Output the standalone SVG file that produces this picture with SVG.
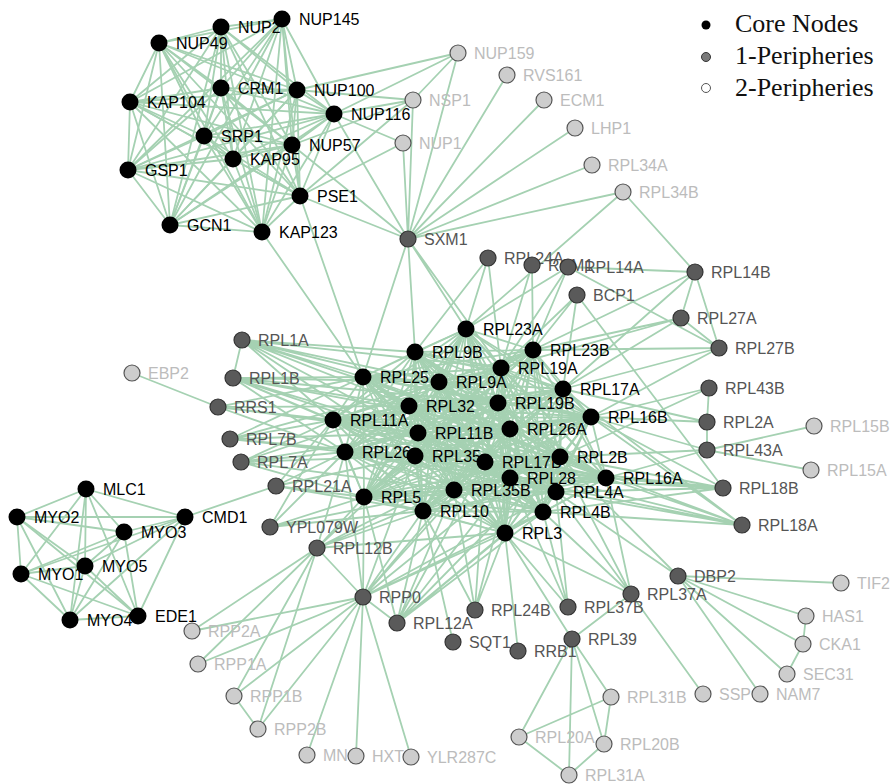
<svg xmlns="http://www.w3.org/2000/svg" width="894" height="784" viewBox="0 0 894 784">
<style>
text{font-family:"Liberation Sans",Arial,sans-serif;font-size:16px}
.c circle{fill:#000}
.c text{fill:#000}
.p1 circle{fill:#5a5a5a;stroke:#333;stroke-width:1.2}
.p1 text{fill:#555}
.p2 circle{fill:#cdcdcd;stroke:#555;stroke-width:1.2}
.p2 text{fill:#bcbcbc}
.leg text{font-family:"Liberation Serif","Times New Roman",serif;font-size:26px;fill:#111}
</style>
<rect width="894" height="784" fill="#fff"/>
<g id="edges" fill="none" stroke="#a5d1b2" stroke-width="1.8" stroke-linejoin="round" stroke-linecap="round">
<path d="M282 19L221 27L262 232L159 43L170 225L221 88L300 196L297 90L128 170L130 102L233 159L334 114L292 145L204 136"/>
<path d="M221 27L159 43L282 19L221 88L262 232L297 90L170 225L130 102L300 196L334 114L128 170L204 136L233 159L292 145"/>
<path d="M159 43L221 88L221 27L297 90L282 19L130 102L262 232L334 114L170 225L204 136L300 196L292 145L128 170L233 159"/>
<path d="M221 88L297 90L159 43L130 102L221 27L334 114L282 19L204 136L262 232L292 145L170 225L233 159L300 196L128 170"/>
<path d="M297 90L130 102L221 88L334 114L159 43L204 136L221 27L292 145L282 19L233 159L262 232L128 170L170 225L300 196"/>
<path d="M130 102L334 114L297 90L204 136L221 88L292 145L159 43L233 159L221 27L128 170L282 19L300 196L262 232L170 225"/>
<path d="M334 114L204 136L130 102L292 145L297 90L233 159L221 88L128 170L159 43L300 196L221 27L170 225L282 19L262 232"/>
<path d="M86 489L185 517L124 532L138 616L85 566L70 620L17 517L21 574"/>
<path d="M185 517L138 616L86 489L70 620L124 532L21 574L85 566L17 517"/>
<path d="M138 616L70 620L185 517L21 574L86 489L17 517L124 532L85 566"/>
<path d="M70 620L21 574L138 616L17 517L185 517L85 566L86 489L124 532"/>
<path d="M505 533L466 329L415 352L543 512L533 350L423 511L501 368L364 497L363 377L454 490L439 382L556 492L563 389L606 478L409 406L510 478L498 403L560 457L591 417L485 462L333 420L415 456L418 433L345 452L510 429Z"/>
<path d="M505 533L415 352L533 350L466 329L501 368L543 512L363 377L423 511L439 382L364 497L563 389L454 490L409 406L556 492L498 403L606 478L591 417L510 478L333 420L560 457L418 433L485 462L510 429L415 456L345 452Z"/>
<path d="M505 533L533 350L501 368L415 352L363 377L466 329L439 382L543 512L563 389L423 511L409 406L364 497L498 403L454 490L591 417L556 492L333 420L606 478L418 433L510 478L510 429L560 457L345 452L485 462L415 456Z"/>
<path d="M505 533L501 368L363 377L533 350L439 382L415 352L563 389L466 329L409 406L543 512L498 403L423 511L591 417L364 497L333 420L454 490L418 433L556 492L510 429L606 478L345 452L510 478L415 456L560 457L485 462Z"/>
<path d="M505 533L363 377L439 382L501 368L563 389L533 350L409 406L415 352L498 403L466 329L591 417L543 512L333 420L423 511L418 433L364 497L510 429L454 490L345 452L556 492L415 456L606 478L485 462L510 478L560 457Z"/>
<path d="M505 533L439 382L563 389L363 377L409 406L501 368L498 403L533 350L591 417L415 352L333 420L466 329L418 433L543 512L510 429L423 511L345 452L364 497L415 456L454 490L485 462L556 492L560 457L606 478L510 478Z"/>
<path d="M505 533L563 389L409 406L439 382L498 403L363 377L591 417L501 368L333 420L533 350L418 433L415 352L510 429L466 329L345 452L543 512L415 456L423 511L485 462L364 497L560 457L454 490L510 478L556 492L606 478Z"/>
<path d="M505 533L409 406L498 403L563 389L591 417L439 382L333 420L363 377L418 433L501 368L510 429L533 350L345 452L415 352L415 456L466 329L485 462L543 512L560 457L423 511L510 478L364 497L606 478L454 490L556 492Z"/>
<path d="M505 533L498 403L591 417L409 406L333 420L563 389L418 433L439 382L510 429L363 377L345 452L501 368L415 456L533 350L485 462L415 352L560 457L466 329L510 478L543 512L606 478L423 511L556 492L364 497L454 490Z"/>
<path d="M505 533L591 417L333 420L498 403L418 433L409 406L510 429L563 389L345 452L439 382L415 456L363 377L485 462L501 368L560 457L533 350L510 478L415 352L606 478L466 329L556 492L543 512L454 490L423 511L364 497Z"/>
<path d="M505 533L333 420L418 433L591 417L510 429L498 403L345 452L409 406L415 456L563 389L485 462L439 382L560 457L363 377L510 478L501 368L606 478L533 350L556 492L415 352L454 490L466 329L364 497L543 512L423 511Z"/>
<path d="M505 533L418 433L510 429L333 420L345 452L591 417L415 456L498 403L485 462L409 406L560 457L563 389L510 478L439 382L606 478L363 377L556 492L501 368L454 490L533 350L364 497L415 352L423 511L466 329L543 512Z"/>
<path d="M458 53L297 90M458 53L334 114M458 53L413 100M413 100L334 114M413 100L297 90M413 100L292 145M413 100L300 196M403 143L300 196M403 143L334 114M300 196L408 239M262 232L363 377M300 196L363 377M623 192L466 329"/>
<path d="M408 239L458 53M408 239L507 75M408 239L544 100M408 239L575 128M408 239L592 165M408 239L623 192M408 239L413 100M408 239L403 143M408 239L292 145M408 239L334 114M408 239L363 377M408 239L415 352M408 239L466 329M408 239L501 368"/>
<path d="M242 340L363 377M242 340L415 352M242 340L439 382M242 340L409 406M242 340L333 420M242 340L418 433M242 340L501 368M242 340L510 429M242 340L498 403M242 340L415 456M242 340L233 378"/>
<path d="M233 378L363 377M233 378L439 382M233 378L409 406M233 378L333 420M233 378L418 433M233 378L345 452M233 378L415 456M233 378L498 403M233 378L485 462M233 378L510 429"/>
<path d="M218 407L132 373M218 407L363 377M218 407L333 420M218 407L409 406M218 407L418 433M218 407L345 452"/>
<path d="M230 439L363 377M230 439L333 420M230 439L409 406M230 439L345 452M230 439L415 456M230 439L418 433M230 439L439 382M230 439L485 462"/>
<path d="M241 462L333 420M241 462L345 452M241 462L364 497M241 462L415 456M241 462L418 433M241 462L409 406M241 462L454 490"/>
<path d="M276 486L185 517M276 486L345 452M276 486L364 497M276 486L333 420M276 486L415 456M276 486L423 511"/>
<path d="M270 527L364 497M270 527L345 452M270 527L423 511M270 527L454 490M270 527L333 420"/>
<path d="M317 548L364 497M317 548L423 511M317 548L345 452M317 548L454 490M317 548L505 533M317 548L415 456M317 548L485 462M317 548L363 597M317 548L192 631M317 548L198 664M317 548L234 696M317 548L258 729"/>
<path d="M363 597L364 497M363 597L423 511M363 597L454 490M363 597L505 533M363 597L510 478M363 597L543 512M363 597L485 462M363 597L345 452M363 597L415 456M363 597L556 492M363 597L397 623M363 597L192 631M363 597L198 664M363 597L234 696M363 597L258 729M363 597L307 755M363 597L356 756M363 597L411 757M234 696L258 729"/>
<path d="M397 623L423 511M397 623L454 490M397 623L505 533M397 623L510 478M397 623L485 462M397 623L543 512M397 623L556 492M397 623L560 457M397 623L364 497"/>
<path d="M475 610L505 533M475 610L454 490M475 610L423 511M475 610L510 478M475 610L485 462M453 642L423 511M518 651L505 533"/>
<path d="M568 607L543 512M568 607L505 533M568 607L556 492M568 607L510 478"/>
<path d="M572 639L505 533M572 639L519 737M572 639L569 775M572 639L604 744M572 639L611 697M572 639L631 594M519 737L611 697M519 737L569 775L604 744L611 697"/>
<path d="M631 594L543 512M631 594L556 492M631 594L606 478M631 594L560 457M631 594L505 533M631 594L703 694"/>
<path d="M678 576L560 457M678 576L556 492M678 576L841 583M678 576L806 616M678 576L803 644M678 576L787 674M678 576L760 694M806 616L803 644L787 674"/>
<path d="M742 525L556 492M742 525L606 478M742 525L543 512M742 525L560 457M742 525L510 478M742 525L485 462M742 525L591 417M742 525L563 389"/>
<path d="M723 488L606 478M723 488L556 492M723 488L560 457M723 488L510 478M723 488L485 462M723 488L591 417M723 488L543 512M723 488L577 295"/>
<path d="M707 450L606 478M707 450L560 457M707 450L591 417M707 450L811 470M707 450L814 426M707 450L707 422M707 422L591 417M707 422L563 389M707 422L709 388M709 388L591 417M709 388L560 457"/>
<path d="M719 348L563 389M719 348L533 350M719 348L591 417M719 348L681 318M719 348L695 272M719 348L568 267M681 318L533 350M681 318L563 389M681 318L695 272M681 318L501 368"/>
<path d="M695 272L568 267M695 272L623 192M695 272L533 350M695 272L563 389M568 267L533 350M568 267L501 368M568 267L466 329M532 265L533 350M532 265L501 368M488 258L466 329M488 258L501 368M488 258L415 352M577 295L533 350M577 295L501 368M577 295L563 389"/>
</g>
<g id="nodes">
<g id="MYO2" class="c" transform="translate(17 517)"><text x="17" y="6">MYO2</text><circle r="8.5"/></g>
<g id="MYO1" class="c" transform="translate(21 574)"><text x="17" y="6">MYO1</text><circle r="8.5"/></g>
<g id="MYO4" class="c" transform="translate(70 620)"><text x="17" y="6">MYO4</text><circle r="8.5"/></g>
<g id="MYO5" class="c" transform="translate(85 566)"><text x="17" y="6">MYO5</text><circle r="8.5"/></g>
<g id="MLC1" class="c" transform="translate(86 489)"><text x="17" y="6">MLC1</text><circle r="8.5"/></g>
<g id="MYO3" class="c" transform="translate(124 532)"><text x="17" y="6">MYO3</text><circle r="8.5"/></g>
<g id="GSP1" class="c" transform="translate(128 170)"><text x="17" y="6">GSP1</text><circle r="8.5"/></g>
<g id="KAP104" class="c" transform="translate(130 102)"><text x="17" y="6">KAP104</text><circle r="8.5"/></g>
<g id="EBP2" class="p2" transform="translate(132 373)"><text x="16" y="6">EBP2</text><circle r="8"/></g>
<g id="EDE1" class="c" transform="translate(138 616)"><text x="17" y="6">EDE1</text><circle r="8.5"/></g>
<g id="NUP49" class="c" transform="translate(159 43)"><text x="17" y="6">NUP49</text><circle r="8.5"/></g>
<g id="GCN1" class="c" transform="translate(170 225)"><text x="17" y="6">GCN1</text><circle r="8.5"/></g>
<g id="CMD1" class="c" transform="translate(185 517)"><text x="17" y="6">CMD1</text><circle r="8.5"/></g>
<g id="RPP2A" class="p2" transform="translate(192 631)"><text x="16" y="6">RPP2A</text><circle r="8"/></g>
<g id="RPP1A" class="p2" transform="translate(198 664)"><text x="16" y="6">RPP1A</text><circle r="8"/></g>
<g id="SRP1" class="c" transform="translate(204 136)"><text x="17" y="6">SRP1</text><circle r="8.5"/></g>
<g id="RRS1" class="p1" transform="translate(218 407)"><text x="16" y="6">RRS1</text><circle r="8"/></g>
<g id="NUP2" class="c" transform="translate(221 27)"><text x="17" y="6">NUP2</text><circle r="8.5"/></g>
<g id="CRM1" class="c" transform="translate(221 88)"><text x="17" y="6">CRM1</text><circle r="8.5"/></g>
<g id="RPL7B" class="p1" transform="translate(230 439)"><text x="16" y="6">RPL7B</text><circle r="8"/></g>
<g id="KAP95" class="c" transform="translate(233 159)"><text x="17" y="6">KAP95</text><circle r="8.5"/></g>
<g id="RPL1B" class="p1" transform="translate(233 378)"><text x="16" y="6">RPL1B</text><circle r="8"/></g>
<g id="RPP1B" class="p2" transform="translate(234 696)"><text x="16" y="6">RPP1B</text><circle r="8"/></g>
<g id="RPL7A" class="p1" transform="translate(241 462)"><text x="16" y="6">RPL7A</text><circle r="8"/></g>
<g id="RPL1A" class="p1" transform="translate(242 340)"><text x="16" y="6">RPL1A</text><circle r="8"/></g>
<g id="RPP2B" class="p2" transform="translate(258 729)"><text x="16" y="6">RPP2B</text><circle r="8"/></g>
<g id="KAP123" class="c" transform="translate(262 232)"><text x="17" y="6">KAP123</text><circle r="8.5"/></g>
<g id="YPL079W" class="p1" transform="translate(270 527)"><text x="16" y="6">YPL079W</text><circle r="8"/></g>
<g id="RPL21A" class="p1" transform="translate(276 486)"><text x="16" y="6">RPL21A</text><circle r="8"/></g>
<g id="NUP145" class="c" transform="translate(282 19)"><text x="17" y="6">NUP145</text><circle r="8.5"/></g>
<g id="NUP57" class="c" transform="translate(292 145)"><text x="17" y="6">NUP57</text><circle r="8.5"/></g>
<g id="NUP100" class="c" transform="translate(297 90)"><text x="17" y="6">NUP100</text><circle r="8.5"/></g>
<g id="PSE1" class="c" transform="translate(300 196)"><text x="17" y="6">PSE1</text><circle r="8.5"/></g>
<g id="MN" class="p2" transform="translate(307 755)"><text x="16" y="6">MN</text><circle r="8"/></g>
<g id="RPL12B" class="p1" transform="translate(317 548)"><text x="16" y="6">RPL12B</text><circle r="8"/></g>
<g id="RPL11A" class="c" transform="translate(333 420)"><text x="17" y="6">RPL11A</text><circle r="8.5"/></g>
<g id="NUP116" class="c" transform="translate(334 114)"><text x="17" y="6">NUP116</text><circle r="8.5"/></g>
<g id="RPL26" class="c" transform="translate(345 452)"><text x="17" y="6">RPL26</text><circle r="8.5"/></g>
<g id="HXT" class="p2" transform="translate(356 756)"><text x="16" y="6">HXT</text><circle r="8"/></g>
<g id="RPL25" class="c" transform="translate(363 377)"><text x="17" y="6">RPL25</text><circle r="8.5"/></g>
<g id="RPP0" class="p1" transform="translate(363 597)"><text x="16" y="6">RPP0</text><circle r="8"/></g>
<g id="RPL5" class="c" transform="translate(364 497)"><text x="17" y="6">RPL5</text><circle r="8.5"/></g>
<g id="RPL12A" class="p1" transform="translate(397 623)"><text x="16" y="6">RPL12A</text><circle r="8"/></g>
<g id="NUP1" class="p2" transform="translate(403 143)"><text x="16" y="6">NUP1</text><circle r="8"/></g>
<g id="SXM1" class="p1" transform="translate(408 239)"><text x="16" y="6">SXM1</text><circle r="8"/></g>
<g id="RPL32" class="c" transform="translate(409 406)"><text x="17" y="6">RPL32</text><circle r="8.5"/></g>
<g id="YLR287C" class="p2" transform="translate(411 757)"><text x="16" y="6">YLR287C</text><circle r="8"/></g>
<g id="NSP1" class="p2" transform="translate(413 100)"><text x="16" y="6">NSP1</text><circle r="8"/></g>
<g id="RPL9B" class="c" transform="translate(415 352)"><text x="17" y="6">RPL9B</text><circle r="8.5"/></g>
<g id="RPL35" class="c" transform="translate(415 456)"><text x="17" y="6">RPL35</text><circle r="8.5"/></g>
<g id="RPL11B" class="c" transform="translate(418 433)"><text x="17" y="6">RPL11B</text><circle r="8.5"/></g>
<g id="RPL10" class="c" transform="translate(423 511)"><text x="17" y="6">RPL10</text><circle r="8.5"/></g>
<g id="RPL9A" class="c" transform="translate(439 382)"><text x="17" y="6">RPL9A</text><circle r="8.5"/></g>
<g id="SQT1" class="p1" transform="translate(453 642)"><text x="16" y="6">SQT1</text><circle r="8"/></g>
<g id="RPL35B" class="c" transform="translate(454 490)"><text x="17" y="6">RPL35B</text><circle r="8.5"/></g>
<g id="NUP159" class="p2" transform="translate(458 53)"><text x="16" y="6">NUP159</text><circle r="8"/></g>
<g id="RPL23A" class="c" transform="translate(466 329)"><text x="17" y="6">RPL23A</text><circle r="8.5"/></g>
<g id="RPL24B" class="p1" transform="translate(475 610)"><text x="16" y="6">RPL24B</text><circle r="8"/></g>
<g id="RPL17B" class="c" transform="translate(485 462)"><text x="17" y="6">RPL17B</text><circle r="8.5"/></g>
<g id="RPL24A" class="p1" transform="translate(488 258)"><text x="16" y="6">RPL24A</text><circle r="8"/></g>
<g id="RPL19B" class="c" transform="translate(498 403)"><text x="17" y="6">RPL19B</text><circle r="8.5"/></g>
<g id="RPL19A" class="c" transform="translate(501 368)"><text x="17" y="6">RPL19A</text><circle r="8.5"/></g>
<g id="RPL3" class="c" transform="translate(505 533)"><text x="17" y="6">RPL3</text><circle r="8.5"/></g>
<g id="RVS161" class="p2" transform="translate(507 75)"><text x="16" y="6">RVS161</text><circle r="8"/></g>
<g id="RPL26A" class="c" transform="translate(510 429)"><text x="17" y="6">RPL26A</text><circle r="8.5"/></g>
<g id="RPL28" class="c" transform="translate(510 478)"><text x="17" y="6">RPL28</text><circle r="8.5"/></g>
<g id="RRB1" class="p1" transform="translate(518 651)"><text x="16" y="6">RRB1</text><circle r="8"/></g>
<g id="RPL20A" class="p2" transform="translate(519 737)"><text x="16" y="6">RPL20A</text><circle r="8"/></g>
<g id="RCM1" class="p1" transform="translate(532 265)"><text x="16" y="6">RCM1</text><circle r="8"/></g>
<g id="RPL23B" class="c" transform="translate(533 350)"><text x="17" y="6">RPL23B</text><circle r="8.5"/></g>
<g id="RPL4B" class="c" transform="translate(543 512)"><text x="17" y="6">RPL4B</text><circle r="8.5"/></g>
<g id="ECM1" class="p2" transform="translate(544 100)"><text x="16" y="6">ECM1</text><circle r="8"/></g>
<g id="RPL4A" class="c" transform="translate(556 492)"><text x="17" y="6">RPL4A</text><circle r="8.5"/></g>
<g id="RPL2B" class="c" transform="translate(560 457)"><text x="17" y="6">RPL2B</text><circle r="8.5"/></g>
<g id="RPL17A" class="c" transform="translate(563 389)"><text x="17" y="6">RPL17A</text><circle r="8.5"/></g>
<g id="RPL14A" class="p1" transform="translate(568 267)"><text x="16" y="6">RPL14A</text><circle r="8"/></g>
<g id="RPL37B" class="p1" transform="translate(568 607)"><text x="16" y="6">RPL37B</text><circle r="8"/></g>
<g id="RPL31A" class="p2" transform="translate(569 775)"><text x="16" y="6">RPL31A</text><circle r="8"/></g>
<g id="RPL39" class="p1" transform="translate(572 639)"><text x="16" y="6">RPL39</text><circle r="8"/></g>
<g id="LHP1" class="p2" transform="translate(575 128)"><text x="16" y="6">LHP1</text><circle r="8"/></g>
<g id="BCP1" class="p1" transform="translate(577 295)"><text x="16" y="6">BCP1</text><circle r="8"/></g>
<g id="RPL16B" class="c" transform="translate(591 417)"><text x="17" y="6">RPL16B</text><circle r="8.5"/></g>
<g id="RPL34A" class="p2" transform="translate(592 165)"><text x="16" y="6">RPL34A</text><circle r="8"/></g>
<g id="RPL20B" class="p2" transform="translate(604 744)"><text x="16" y="6">RPL20B</text><circle r="8"/></g>
<g id="RPL16A" class="c" transform="translate(606 478)"><text x="17" y="6">RPL16A</text><circle r="8.5"/></g>
<g id="RPL31B" class="p2" transform="translate(611 697)"><text x="16" y="6">RPL31B</text><circle r="8"/></g>
<g id="RPL34B" class="p2" transform="translate(623 192)"><text x="16" y="6">RPL34B</text><circle r="8"/></g>
<g id="RPL37A" class="p1" transform="translate(631 594)"><text x="16" y="6">RPL37A</text><circle r="8"/></g>
<g id="DBP2" class="p1" transform="translate(678 576)"><text x="16" y="6">DBP2</text><circle r="8"/></g>
<g id="RPL27A" class="p1" transform="translate(681 318)"><text x="16" y="6">RPL27A</text><circle r="8"/></g>
<g id="RPL14B" class="p1" transform="translate(695 272)"><text x="16" y="6">RPL14B</text><circle r="8"/></g>
<g id="SSP" class="p2" transform="translate(703 694)"><text x="16" y="6">SSP</text><circle r="8"/></g>
<g id="RPL2A" class="p1" transform="translate(707 422)"><text x="16" y="6">RPL2A</text><circle r="8"/></g>
<g id="RPL43A" class="p1" transform="translate(707 450)"><text x="16" y="6">RPL43A</text><circle r="8"/></g>
<g id="RPL43B" class="p1" transform="translate(709 388)"><text x="16" y="6">RPL43B</text><circle r="8"/></g>
<g id="RPL27B" class="p1" transform="translate(719 348)"><text x="16" y="6">RPL27B</text><circle r="8"/></g>
<g id="RPL18B" class="p1" transform="translate(723 488)"><text x="16" y="6">RPL18B</text><circle r="8"/></g>
<g id="RPL18A" class="p1" transform="translate(742 525)"><text x="16" y="6">RPL18A</text><circle r="8"/></g>
<g id="NAM7" class="p2" transform="translate(760 694)"><text x="16" y="6">NAM7</text><circle r="8"/></g>
<g id="SEC31" class="p2" transform="translate(787 674)"><text x="16" y="6">SEC31</text><circle r="8"/></g>
<g id="CKA1" class="p2" transform="translate(803 644)"><text x="16" y="6">CKA1</text><circle r="8"/></g>
<g id="HAS1" class="p2" transform="translate(806 616)"><text x="16" y="6">HAS1</text><circle r="8"/></g>
<g id="RPL15A" class="p2" transform="translate(811 470)"><text x="16" y="6">RPL15A</text><circle r="8"/></g>
<g id="RPL15B" class="p2" transform="translate(814 426)"><text x="16" y="6">RPL15B</text><circle r="8"/></g>
<g id="TIF2" class="p2" transform="translate(841 583)"><text x="16" y="6">TIF2</text><circle r="8"/></g>
</g>
<g id="legend" class="leg">
<circle cx="706" cy="25" r="4.5" fill="#000"/>
<text x="735" y="32">Core Nodes</text>
<circle cx="706" cy="57" r="4.5" fill="#7a7a7a" stroke="#333" stroke-width="1"/>
<text x="735" y="64">1-Peripheries</text>
<circle cx="706" cy="88" r="4.5" fill="#fff" stroke="#555" stroke-width="1"/>
<text x="735" y="96">2-Peripheries</text>
</g>
</svg>
